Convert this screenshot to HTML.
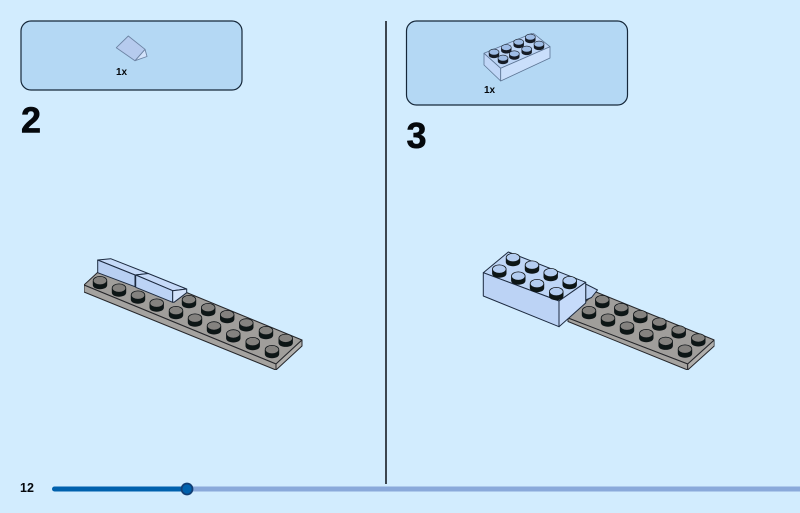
<!DOCTYPE html>
<html>
<head>
<meta charset="utf-8">
<style>
html,body{margin:0;padding:0;background:#d2ecfe;}
svg{display:block;}
text{font-family:"Liberation Sans",sans-serif;font-weight:700;fill:#05080c;}
</style>
</head>
<body>
<svg width="800" height="513" viewBox="0 0 800 513" xmlns="http://www.w3.org/2000/svg">
<defs>
<g id="g"><path d="M-7.200 0V4C-7.200 6.600 -4 8.200 0 8.200S7.200 6.600 7.200 4V0Z" fill="#101318"/><ellipse cx="0" cy="-.4" rx="6.800" ry="4.200" fill="#84827f" stroke="#101318" stroke-width=".8"/></g>
<g id="b"><path d="M-7.200 0V4C-7.200 6.600 -4 8.200 0 8.200S7.200 6.600 7.200 4V0Z" fill="#101318"/><ellipse cx="0" cy="-.4" rx="6.800" ry="4.200" fill="#b4cdf0" stroke="#101318" stroke-width=".8"/></g>
<g id="s"><path d="M-5.200 0V2.800C-5.200 4.600 -3 5.800 0 5.800S5.200 4.600 5.200 2.800V0Z" fill="#141c26"/><ellipse cx="0" cy="-.2" rx="5" ry="3" fill="#9fbde6" stroke="#141c26" stroke-width=".6"/></g>
<filter id="soft" x="0" y="0" width="100%" height="100%"><feGaussianBlur stdDeviation=".35"/></filter>
</defs>
<rect width="800" height="513" fill="#d2ecfe"/>

<rect x="21" y="21" width="221" height="69" rx="10" fill="#b4d8f4" stroke="#16283a" stroke-width="1.200"/>
<rect x="406.500" y="21" width="221" height="84" rx="10" fill="#b4d8f4" stroke="#16283a" stroke-width="1.200"/>
<line x1="386" y1="21" x2="386" y2="484" stroke="#0a0f16" stroke-width="1.500"/>

<text x="21" y="132.500" font-size="36" stroke="#05080c" stroke-width=".6">2</text>
<text x="406.500" y="148" font-size="36" stroke="#05080c" stroke-width=".6">3</text>
<text x="116" y="75" font-size="10">1x</text>
<text x="484" y="93" font-size="10">1x</text>
<text x="20" y="492" font-size="12.500">12</text>

<g filter="url(#soft)">
<!-- small slope -->
<g stroke="#6d84a4" stroke-width=".9" stroke-linejoin="round">
<polygon points="135,60.700 145,49.300 147,56.500" fill="#d3e3fb"/>
<polygon points="116.300,47.700 128.300,36 145,49.300 135,60.700" fill="#b6cbee"/>
</g>

<!-- small brick -->
<g stroke="#5d7594" stroke-width=".8" stroke-linejoin="round">
<polygon points="484,53.300 533,33 550,46.700 500.700,68.300" fill="#bdd5f6"/>
<polygon points="484,53.300 500.700,68.300 500.700,81 484,65" fill="#c0d6f7"/>
<polygon points="500.700,68.300 550,46.700 550,58 500.700,81" fill="#cadffb"/>
</g>
<use href="#s" x="530.300" y="37.300"/><use href="#s" x="518.700" y="42.300"/><use href="#s" x="506.300" y="47.700"/><use href="#s" x="494" y="52.300"/>
<use href="#s" x="539" y="44.300"/><use href="#s" x="526.700" y="49.300"/><use href="#s" x="514.300" y="54"/><use href="#s" x="503" y="58.300"/>

<!-- plate step 2 -->
<g stroke="#26282c" stroke-width="1" stroke-linejoin="round">
<polygon points="84,285 110,261 302,340 276,364" fill="#a09e9b"/>
<polygon points="84,285 276,364 276,370 84,292" fill="#a5a3a0"/>
<polygon points="276,364 302,340 302,346 276,370" fill="#b1afac"/>
</g>
<use href="#g" x="189" y="300"/><use href="#g" x="208.200" y="308"/><use href="#g" x="227.200" y="315"/><use href="#g" x="246.300" y="323.300"/><use href="#g" x="266" y="331"/><use href="#g" x="285.700" y="338.700"/>
<use href="#g" x="100" y="281"/><use href="#g" x="119" y="288.500"/><use href="#g" x="138" y="295.500"/><use href="#g" x="156.700" y="303.500"/><use href="#g" x="176" y="311"/><use href="#g" x="195" y="318.500"/><use href="#g" x="214" y="326.300"/><use href="#g" x="233.300" y="334.300"/><use href="#g" x="252.700" y="342"/><use href="#g" x="272" y="350"/>
<!-- slopes -->
<g stroke="#1f2c40" stroke-width="1" stroke-linejoin="round">
<polygon points="97.700,260 110.700,258.700 148.300,273.500 135,275" fill="#c6daf8"/>
<polygon points="97.700,260 135,275 135,286.700 97.700,272.700" fill="#b8cff2"/>
<polygon points="135.700,275 148.300,273.500 186.700,289 172.700,290.700" fill="#c6daf8"/>
<polygon points="135.700,275 172.700,290.700 172.700,302.300 135.700,287.300" fill="#bcd3f5"/>
<polygon points="172.700,290.700 186.700,289 186.700,292.700 174,302.300 172.700,302.300" fill="#d3e3fb"/>
</g>

<!-- plate step 3 -->
<g stroke="#26282c" stroke-width="1" stroke-linejoin="round">
<polygon points="568,318 596,292 714.300,340 687.700,364" fill="#a09e9b"/>
<polygon points="568,318 687.700,364 687.700,370 568,321.500" fill="#a5a3a0"/>
<polygon points="687.700,364 714.300,340 714.300,346 687.700,370" fill="#b1afac"/>
</g>
<polygon points="585.700,284 597.500,290 591.500,297.500 585.700,300" fill="#bcd3f5" stroke="#1f2c40" stroke-width="1" stroke-linejoin="round"/>
<use href="#g" x="602.300" y="300"/><use href="#g" x="621.300" y="308"/><use href="#g" x="640.300" y="315"/><use href="#g" x="659.300" y="322.500"/><use href="#g" x="678.700" y="330.300"/><use href="#g" x="698.300" y="338.300"/>
<use href="#g" x="589" y="311"/><use href="#g" x="608" y="318.500"/><use href="#g" x="627" y="326.500"/><use href="#g" x="646.300" y="334"/><use href="#g" x="665.700" y="341.700"/><use href="#g" x="685" y="349.500"/>
<!-- big brick -->
<g stroke="#1f2c40" stroke-width="1" stroke-linejoin="round">
<polygon points="483.300,272.700 508.300,252 585.700,282.300 559,301" fill="#bfd6f6"/>
<polygon points="483.300,272.700 559,301 559,326.700 483.300,296" fill="#bcd3f5"/>
<polygon points="559,301 585.700,282.300 585.700,303 559,326.700" fill="#c6dbfa"/>
</g>
<use href="#b" x="513" y="258"/><use href="#b" x="532" y="265.500"/><use href="#b" x="550.700" y="273"/><use href="#b" x="569.700" y="281"/>
<use href="#b" x="499.300" y="269.500"/><use href="#b" x="518.300" y="276.500"/><use href="#b" x="537" y="284"/><use href="#b" x="556.300" y="292"/>
</g>

<!-- progress -->
<rect x="187" y="486.500" width="613" height="5" fill="#8aa9da"/>
<rect x="52" y="486.500" width="135" height="5" rx="2.500" fill="#0061ad"/>
<circle cx="187" cy="489" r="5.500" fill="#0061ad" stroke="#123f75" stroke-width="1.800"/>
</svg>
</body>
</html>
